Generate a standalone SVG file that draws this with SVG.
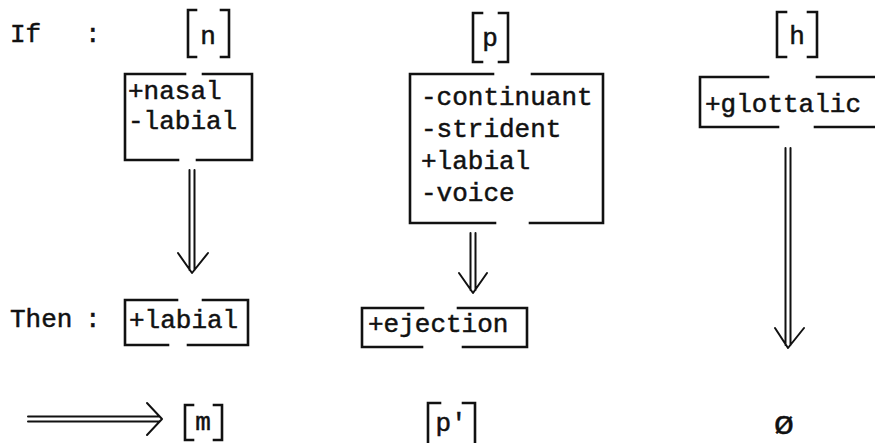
<svg xmlns="http://www.w3.org/2000/svg" width="875" height="443" viewBox="0 0 875 443">
<style>
text{font-family:"Liberation Mono","Courier New",monospace;font-size:26px;fill:#111;stroke:#111;stroke-width:0.5}
.b{fill:none;stroke:#111;stroke-width:2.6;stroke-linecap:square;stroke-linejoin:miter}
.a{fill:none;stroke:#111;stroke-width:2;stroke-linecap:round;stroke-linejoin:round}
.m{text-anchor:middle}
</style>
<rect width="875" height="443" fill="#fff"/>
<g id="labels">
<text x="10" y="42">If</text>
<text x="85" y="42">:</text>
<text x="10" y="327">Then</text>
<text x="85" y="327">:</text>
</g>
<g id="seg-n">
<path class="b" d="M196,10 H188 V57 H196 M221,10 H229 V57 H221"/>
<text class="m" x="208" y="44">n</text>
</g>
<g id="feat-n">
<path class="b" d="M185,74 H125 V160 H178 M197,160 H252 V74 H203"/>
<text x="128" y="99">+nasal</text>
<text x="128" y="129">-labial</text>
</g>
<g id="seg-p">
<path class="b" d="M482,13 H473 V62 H482 M499,13 H508 V62 H499"/>
<text class="m" x="490" y="46">p</text>
</g>
<g id="feat-p">
<path class="b" d="M493,74 H410 V223 H495 M530,223 H603 V74 H532"/>
<text x="421" y="105">-continuant</text>
<text x="421" y="137">-strident</text>
<text x="421" y="169">+labial</text>
<text x="421" y="201">-voice</text>
</g>
<g id="seg-h">
<path class="b" d="M786,12 H777 V57 H786 M808,12 H817 V57 H808"/>
<text class="m" x="797" y="44">h</text>
</g>
<g id="feat-h">
<path class="b" d="M768,77 H700 V127 H778 M815,127 H880 M817,77 H880"/>
<text x="705" y="112">+glottalic</text>
</g>
<g id="then-labial">
<path class="b" d="M177,300 H125 V345 H168 M188,345 H248 V300 H203"/>
<text x="129" y="328">+labial</text>
</g>
<g id="then-ejection">
<path class="b" d="M423,308 H362 V347 H422 M463,347 H527 V308 H458"/>
<text x="368" y="332">+ejection</text>
</g>
<g id="out-m">
<path class="b" d="M193,405 H185 V440 H193 M214,405 H222 V440 H214"/>
<text class="m" x="203" y="430">m</text>
</g>
<g id="out-p">
<path class="b" d="M440,403 H428 V443 M463,403 H475 V443"/>
<text class="m" x="451" y="431">p'</text>
</g>
<g id="out-h">
<text class="m" x="784" y="434" style="font-size:34px">ø</text>
</g>
<g id="connectors">
<path class="a" d="M189.5,170 V270 M194.5,170 V270 M178,253 L192,273 L208,253"/>
<path class="a" d="M470.5,233 V290 M475.5,233 V290 M459,273 L473,293 L487,273"/>
<path class="a" d="M785.5,148 V345 M790.5,148 V345 M775,328 L788,348 L804,328"/>
<path class="a" d="M28,416.5 H159 M28,421.5 H159 M147,403 L162,419 L147,435"/>
</g>
</svg>
